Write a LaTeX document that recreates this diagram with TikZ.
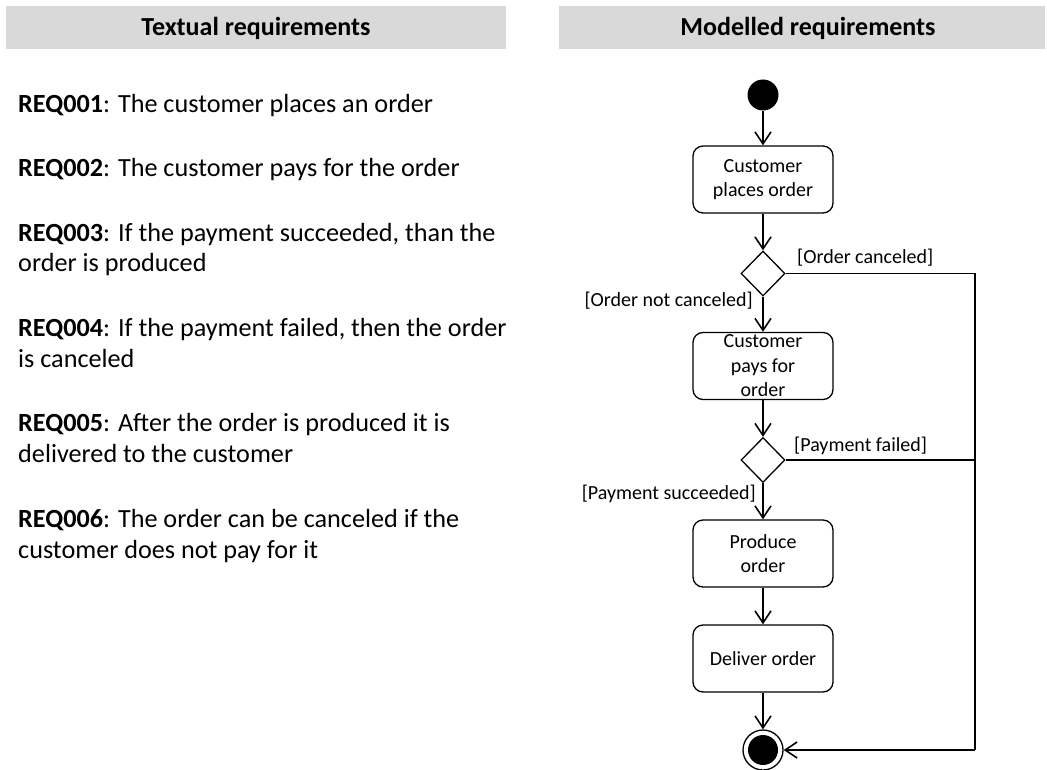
\documentclass[tikz,border=0pt]{standalone}
\usepackage{fontspec}
\setmainfont{Carlito}
\usetikzlibrary{arrows.meta,shapes.geometric}
\tikzset{
  hdr/.style={fill=black!15, draw=none},
  hdrtext/.style={font=\fontsize{26}{30}\selectfont\bfseries},
  req/.style={anchor=base west, inner sep=0pt, font=\fontsize{26.2}{31}\selectfont, align=left},
  act/.style={draw, line width=1.3pt, rounded corners=10pt, minimum width=140pt, minimum height=67pt, align=center, font=\fontsize{20}{24.5}\selectfont, inner sep=0pt},
  dec/.style={draw, line width=1.3pt, diamond, minimum width=44pt, minimum height=45pt, inner sep=0pt},
  guard/.style={font=\fontsize{20}{24}\selectfont, inner sep=0pt},
  flow/.style={line width=1.6pt, -{Straight Barb[length=12pt,width=16pt,line width=1.6pt]}},
  line/.style={line width=1.6pt}
}
\begin{document}
\begin{tikzpicture}[x=1pt,y=-1pt]
\useasboundingbox (0,0) rectangle (1047,770);
% headers
\fill[hdr] (6,6) rectangle (506,49);
\node[hdrtext] (h1) at (256,28) {Textual requirements};
\fill[hdr] (559,6) rectangle (1045,49);
\node[hdrtext] (h2) at (808,28) {Modelled requirements};
% requirements (anchor = baseline of last line)
\node[req] (r1) at (18,113) {\textbf{REQ001}: The customer places an order};
\node[req] (r2) at (18,177) {\textbf{REQ002}: The customer pays for the order};
\node[req] (r3) at (18,272) {\textbf{REQ003}: If the payment succeeded, than the\\order is produced};
\node[req] (r4) at (18,367) {\textbf{REQ004}: If the payment failed, then the order\\is canceled};
\node[req] (r5) at (18,462) {\textbf{REQ005}: After the order is produced it is\\delivered to the customer};
\node[req] (r6) at (18,558) {\textbf{REQ006}: The order can be canceled if the\\customer does not pay for it};
% activity diagram
\node[circle, fill=black, minimum size=31pt, inner sep=0pt] (start) at (763,95) {};
\node[act] (a1) at (763,179.5) {Customer\\places order};
\node[dec] (d1) at (763,273.5) {};
\node[act] (a2) at (763,366) {Customer\\pays for\\order};
\node[dec] (d2) at (763,460) {};
\node[act] (a3) at (763,553.5) {Produce\\order};
\node[act] (a4) at (763,658.5) {Deliver order};
\node[circle, draw, line width=1.3pt, minimum size=40pt, inner sep=0pt] (end) at (763,750) {};
\node[circle, fill=black, minimum size=30pt, inner sep=0pt] (endin) at (763,750) {};
\coordinate (c1) at (975,273.5);
\coordinate (c2) at (975,460);
\coordinate (c3) at (975,750);
\draw[flow] (start) -- (a1);
\draw[flow] (a1) -- (d1);
\draw[flow] (d1) -- (a2);
\draw[flow] (a2) -- (d2);
\draw[flow] (d2) -- (a3);
\draw[flow] (a3) -- (a4);
\draw[flow] (a4) -- (end);
\draw[line] (d1.east) -- (c1) -- (c3);
\draw[line] (d2.east) -- (c2);
\draw[flow] (c3) -- (end.east);
% guards
\node[guard, anchor=west] (g1) at (797,258) {[Order canceled]};
\node[guard, anchor=east] (g2) at (753,301) {[Order not canceled]};
\node[guard, anchor=west] (g3) at (794,446) {[Payment failed]};
\node[guard, anchor=east] (g4) at (756,494) {[Payment succeeded]};
\end{tikzpicture}
\end{document}
